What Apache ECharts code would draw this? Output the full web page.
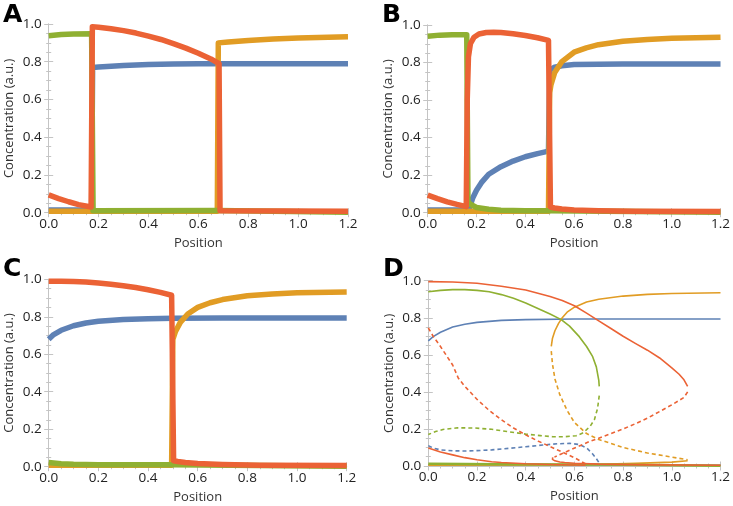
<!DOCTYPE html>
<html><head><meta charset="utf-8">
<script src="https://cdn.jsdelivr.net/npm/echarts@6/dist/echarts.min.js"></script>
<style>html,body{margin:0;padding:0;background:#fff}#c{width:733px;height:506px}</style>
</head><body><div id="c"></div>
<script>
// ---- data: [position, concentration] ----
const xTicks = [0, 0.2, 0.4, 0.6, 0.8, 1.0, 1.2];
const yTicks = [0, 0.2, 0.4, 0.6, 0.8, 1.0];
const panelLabels = ['A', 'B', 'C', 'D'];

// Panel A
const aBlue = [[0,0.014],[0.172,0.014],[0.176,0.77],[0.2,0.772],[0.3,0.78],[0.4,0.785],[0.5,0.788],[0.6,0.79],[0.8,0.79],[1.2,0.79]];
const aOrange = [[0,0.008],[0.676,0.008],[0.68,0.9],[0.72,0.905],[0.8,0.913],[0.9,0.92],[1.0,0.926],[1.2,0.932]];
const aGreen = [[0,0.938],[0.05,0.944],[0.1,0.947],[0.172,0.948],[0.178,0.01],[0.676,0.012],[0.68,0.002],[1.2,0.002]];
const aRed = [[0,0.094],[0.04,0.075],[0.08,0.058],[0.12,0.043],[0.17,0.03],[0.175,0.985],[0.2,0.983],[0.25,0.975],[0.3,0.965],[0.35,0.952],[0.4,0.936],[0.45,0.918],[0.5,0.896],[0.55,0.872],[0.6,0.845],[0.65,0.815],[0.683,0.79],[0.687,0.01],[1.2,0.008]];

// Panel B
const bBlue = [[0,0.014],[0.168,0.014],[0.175,0.04],[0.185,0.08],[0.2,0.12],[0.22,0.16],[0.25,0.205],[0.3,0.245],[0.35,0.275],[0.4,0.298],[0.45,0.315],[0.495,0.328],[0.5,0.76],[0.52,0.775],[0.55,0.783],[0.6,0.79],[0.8,0.792],[1.2,0.792]];
const bOrange = [[0,0.008],[0.495,0.008],[0.5,0.64],[0.505,0.68],[0.52,0.745],[0.55,0.805],[0.6,0.855],[0.65,0.878],[0.7,0.895],[0.8,0.913],[0.9,0.923],[1.0,0.929],[1.2,0.935]];
const bGreen = [[0,0.94],[0.05,0.946],[0.1,0.948],[0.16,0.948],[0.165,0.06],[0.175,0.045],[0.2,0.028],[0.25,0.018],[0.3,0.013],[0.4,0.011],[0.495,0.01],[0.5,0.002],[1.2,0.002]];
const bRed = [[0,0.094],[0.04,0.075],[0.08,0.058],[0.12,0.044],[0.158,0.032],[0.162,0.6],[0.167,0.83],[0.175,0.9],[0.19,0.935],[0.21,0.952],[0.24,0.96],[0.27,0.962],[0.3,0.96],[0.35,0.953],[0.4,0.944],[0.45,0.932],[0.495,0.918],[0.503,0.03],[0.52,0.025],[0.55,0.02],[0.6,0.015],[0.7,0.011],[0.85,0.008],[1.2,0.006]];

// Panel C
const cBlue = [[0,0.68],[0.02,0.705],[0.05,0.728],[0.1,0.752],[0.15,0.767],[0.2,0.776],[0.3,0.785],[0.4,0.789],[0.5,0.792],[0.7,0.793],[1.2,0.793]];
const cOrange = [[0,0.008],[0.495,0.008],[0.5,0.68],[0.51,0.72],[0.53,0.77],[0.56,0.815],[0.6,0.85],[0.65,0.875],[0.7,0.892],[0.8,0.912],[0.9,0.922],[1.0,0.928],[1.2,0.932]];
const cGreen = [[0,0.022],[0.05,0.016],[0.1,0.013],[0.2,0.011],[0.35,0.01],[0.495,0.01],[0.5,0.002],[1.2,0.002]];
const cRed = [[0,0.99],[0.05,0.99],[0.1,0.988],[0.15,0.985],[0.2,0.98],[0.25,0.974],[0.3,0.966],[0.35,0.956],[0.4,0.944],[0.45,0.93],[0.495,0.915],[0.503,0.032],[0.52,0.028],[0.55,0.022],[0.6,0.017],[0.7,0.012],[0.85,0.008],[1.2,0.006]];

// Panel D (solid = stable, dashed = unstable)
const dBlueUp = [[0,0.675],[0.02,0.698],[0.05,0.722],[0.1,0.75],[0.15,0.765],[0.2,0.775],[0.3,0.786],[0.4,0.79],[0.6,0.793],[1.2,0.793]];
const dBlueMid = [[0,0.11],[0.02,0.097],[0.05,0.087],[0.1,0.082],[0.15,0.081],[0.2,0.083],[0.26,0.087],[0.33,0.095],[0.4,0.104],[0.47,0.113],[0.53,0.12],[0.58,0.122],[0.62,0.116],[0.65,0.098],[0.675,0.065],[0.69,0.04],[0.7,0.02]];
const dBlueLow = [[0,0.006],[0.7,0.006],[1.2,0.004]];
const dOrangeUp = [[0.505,0.645],[0.51,0.69],[0.52,0.73],[0.535,0.77],[0.55,0.8],[0.57,0.83],[0.6,0.857],[0.65,0.885],[0.7,0.9],[0.8,0.917],[0.9,0.926],[1.0,0.931],[1.2,0.935]];
const dOrangeMid = [[0.505,0.62],[0.51,0.55],[0.52,0.47],[0.54,0.385],[0.57,0.3],[0.6,0.235],[0.65,0.175],[0.7,0.143],[0.8,0.1],[0.9,0.07],[1.0,0.048],[1.065,0.034]];
const dOrangeLow = [[0,0.004],[0.5,0.005],[0.7,0.009],[0.85,0.014],[1.0,0.021],[1.065,0.028]];
const dGreenUp = [[0,0.94],[0.05,0.948],[0.1,0.952],[0.15,0.952],[0.2,0.948],[0.25,0.94],[0.3,0.925],[0.35,0.905],[0.4,0.88],[0.45,0.85],[0.5,0.82],[0.546,0.79],[0.58,0.755],[0.62,0.698],[0.65,0.645],[0.675,0.59],[0.69,0.535],[0.7,0.464],[0.702,0.43]];
const dGreenMid = [[0.702,0.38],[0.695,0.31],[0.682,0.25],[0.665,0.215],[0.648,0.194],[0.63,0.175],[0.607,0.163],[0.56,0.158],[0.511,0.158],[0.46,0.164],[0.4,0.172],[0.33,0.185],[0.26,0.198],[0.19,0.205],[0.12,0.206],[0.06,0.197],[0.03,0.186],[0,0.17]];
const dGreenLow = [[0,0.012],[0.3,0.01],[0.7,0.008],[1.2,0.002]];
const dRedUp = [[0,0.995],[0.1,0.993],[0.2,0.986],[0.3,0.97],[0.4,0.95],[0.5,0.915],[0.55,0.893],[0.6,0.865],[0.65,0.825],[0.7,0.783],[0.75,0.742],[0.8,0.7],[0.85,0.662],[0.9,0.625],[0.95,0.583],[1.0,0.53],[1.03,0.495],[1.05,0.465],[1.065,0.43]];
const dRedMid = [[1.065,0.4],[1.05,0.37],[1.0,0.33],[0.95,0.294],[0.9,0.258],[0.85,0.228],[0.8,0.2],[0.75,0.175],[0.7,0.15],[0.66,0.131],[0.62,0.108],[0.58,0.085],[0.546,0.065],[0.518,0.048]];
const dRedLowR = [[0.511,0.047],[0.51,0.036],[0.52,0.028],[0.54,0.022],[0.56,0.019],[0.6,0.015],[0.7,0.01],[0.9,0.006],[1.2,0.004]];
const dRedMidL = [[0,0.745],[0.02,0.7],[0.05,0.645],[0.08,0.585],[0.1,0.545],[0.123,0.475],[0.15,0.43],[0.2,0.36],[0.25,0.3],[0.3,0.25],[0.35,0.205],[0.4,0.168],[0.45,0.135],[0.5,0.105],[0.55,0.075],[0.6,0.045],[0.645,0.012]];
const dRedLowL = [[0,0.097],[0.05,0.076],[0.1,0.06],[0.15,0.045],[0.2,0.034],[0.26,0.023],[0.3,0.019],[0.4,0.012],[0.5,0.008],[0.645,0.004]];

// ---- style ----
const C = {blue:'#5E81B5', orange:'#E19C24', green:'#8FB032', red:'#EB6235'};
const FONT = 'Open Sans';
const frame = '#c4c4c4';
const grids = [
  {left:48.7, top:24, width:299.3, height:188.7},
  {left:427.7, top:25, width:294, height:187.7},
  {left:48.7, top:279.3, width:298, height:187.4},
  {left:428.3, top:280.7, width:293.4, height:185.3}
];

const xAxes = [], yAxes = [], series = [];
grids.forEach((g, i) => {
  const common = {min:0, max:1.2, interval:0.2, gridIndex:i,
    axisLine:{show:true, lineStyle:{color:frame, width:1}},
    axisTick:{show:true, inside:true, length:4.5, lineStyle:{color:frame}},
    minorTick:{show:true, splitNumber:4, length:2.5, lineStyle:{color:frame}},
    splitLine:{show:false}};
  xAxes.push(Object.assign({}, common, {type:'value', position:'bottom',
    name:'Position', nameLocation:'middle', nameGap:24,
    nameTextStyle:{fontFamily:FONT, fontSize:13, color:'#333'},
    axisLabel:{fontFamily:FONT, fontSize:13.5, color:'#222', margin:4,
      formatter:v => xTicks.some(t => Math.abs(t - v) < 1e-6) ? v.toFixed(1) : ''}}));
  xAxes.push(Object.assign({}, common, {type:'value', position:'top', axisLabel:{show:false}}));
  const ycommon = Object.assign({}, common, {min:0, max:1, interval:0.2});
  yAxes.push(Object.assign({}, ycommon, {type:'value', position:'left',
    name:'Concentration (a.u.)', nameLocation:'middle', nameGap:33,
    nameTextStyle:{fontFamily:FONT, fontSize:13, color:'#333'},
    axisLabel:{fontFamily:FONT, fontSize:13.5, color:'#222', margin:7,
      formatter:v => yTicks.some(t => Math.abs(t - v) < 1e-6) ? v.toFixed(1) : ''}}));
  yAxes.push(Object.assign({}, ycommon, {type:'value', position:'right', axisLabel:{show:false}}));
});

function add(panel, data, color, width, dashed) {
  series.push({type:'line', xAxisIndex:panel*2, yAxisIndex:panel*2, data:data,
    showSymbol:false, symbol:'none', smooth:false, silent:true, clip:true,
    lineStyle:{color:color, width:width, type: dashed ? [4,3] : 'solid', cap:'butt', join:'round'}});
}
const W = 5.5;
[[aBlue,aOrange,aGreen,aRed],[bBlue,bOrange,bGreen,bRed],[cBlue,cOrange,cGreen,cRed]].forEach((p, i) => {
  add(i, p[0], C.blue, W); add(i, p[1], C.orange, W); add(i, p[2], C.green, W); add(i, p[3], C.red, W);
});
const w = 1.6;
add(3, dBlueLow, C.blue, w); add(3, dBlueUp, C.blue, w); add(3, dBlueMid, C.blue, w, true);
add(3, dOrangeLow, C.orange, w); add(3, dOrangeUp, C.orange, w); add(3, dOrangeMid, C.orange, w, true);
add(3, dGreenLow, C.green, 2.5); add(3, dGreenUp, C.green, w); add(3, dGreenMid, C.green, w, true);
add(3, dRedLowL, C.red, w); add(3, dRedLowR, C.red, w); add(3, dRedUp, C.red, w);
add(3, dRedMidL, C.red, w, true); add(3, dRedMid, C.red, w, true);

const letterPos = [[3,3],[382,3],[3,257],[383,257]];
const graphic = panelLabels.map((t, i) => ({type:'text', left:letterPos[i][0], top:letterPos[i][1],
  style:{text:t, fontFamily:'DejaVu Sans', fontWeight:'bold', fontSize:25, fill:'#000'}}));

const chart = echarts.init(document.getElementById('c'), null, {renderer:'canvas'});
chart.setOption({animation:false, backgroundColor:'#fff', grid:grids, xAxis:xAxes, yAxis:yAxes, series:series, graphic:graphic});
</script></body></html>
